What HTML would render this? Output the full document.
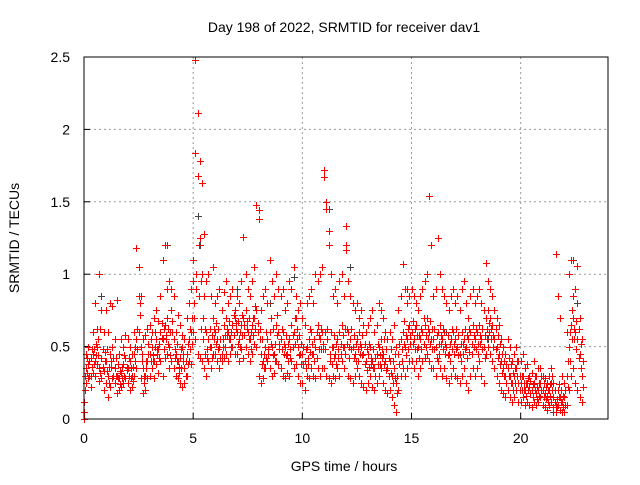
<!DOCTYPE html>
<html><head><meta charset="utf-8"><style>
body{margin:0;background:#fff}
svg text{font-family:"Liberation Sans",sans-serif;font-size:14px;fill:#000}
</style></head><body>
<svg id="chart" width="640" height="480" xmlns="http://www.w3.org/2000/svg">
<rect width="640" height="480" fill="#fff"/>
<text x="344" y="32" text-anchor="middle">Day 198 of 2022, SRMTID for receiver dav1</text>
<text transform="translate(19,238) rotate(-90)" text-anchor="middle">SRMTID / TECUs</text>
<text x="344" y="471" text-anchor="middle">GPS time / hours</text>
<g id="grid"></g>
<g id="ticks"></g>
<g id="marks"></g>
<rect x="84" y="57" width="524" height="362" fill="none" stroke="#000" stroke-width="1"/>
</svg>
<script>
const xTicks=[0,5,10,15,20];
const yTicks=[0,0.5,1,1.5,2,2.5];
const yTickLabels=["0","0.5","1","1.5","2","2.5"];
const hours=[0.0,0.1,0.2,0.3,0.4,0.5,0.6,0.7,0.8,0.9,
1.0,1.1,1.2,1.3,1.4,1.5,1.6,1.7,1.8,1.9,
2.0,2.1,2.2,2.3,2.4,2.5,2.6,2.7,2.8,2.9,
3.0,3.1,3.2,3.3,3.4,3.5,3.6,3.7,3.8,3.9,
4.0,4.1,4.2,4.3,4.4,4.5,4.6,4.7,4.8,4.9,
5.0,5.1,5.2,5.3,5.4,5.5,5.6,5.7,5.8,5.9,
6.0,6.1,6.2,6.3,6.4,6.5,6.6,6.7,6.8,6.9,
7.0,7.1,7.2,7.3,7.4,7.5,7.6,7.7,7.8,7.9,
8.0,8.1,8.2,8.3,8.4,8.5,8.6,8.7,8.8,8.9,
9.0,9.1,9.2,9.3,9.4,9.5,9.6,9.7,9.8,9.9,
10.0,10.1,10.2,10.3,10.4,10.5,10.6,10.7,10.8,10.9,
11.0,11.1,11.2,11.3,11.4,11.5,11.6,11.7,11.8,11.9,
12.0,12.1,12.2,12.3,12.4,12.5,12.6,12.7,12.8,12.9,
13.0,13.1,13.2,13.3,13.4,13.5,13.6,13.7,13.8,13.9,
14.0,14.1,14.2,14.3,14.4,14.5,14.6,14.7,14.8,14.9,
15.0,15.1,15.2,15.3,15.4,15.5,15.6,15.7,15.8,15.9,
16.0,16.1,16.2,16.3,16.4,16.5,16.6,16.7,16.8,16.9,
17.0,17.1,17.2,17.3,17.4,17.5,17.6,17.7,17.8,17.9,
18.0,18.1,18.2,18.3,18.4,18.5,18.6,18.7,18.8,18.9,
19.0,19.1,19.2,19.3,19.4,19.5,19.6,19.7,19.8,19.9,
20.0,20.1,20.2,20.3,20.4,20.5,20.6,20.7,20.8,20.9,
21.0,21.1,21.2,21.3,21.4,21.5,21.6,21.7,21.8,21.9,
22.0,22.1,22.2,22.3,22.4,22.5,22.6,22.7,22.8];
const hoursMid=[0.05,0.15,0.25,0.35,0.45,0.55,0.65,0.75,0.85,0.95,
1.05,1.15,1.25,1.35,1.45,1.55,1.65,1.75,1.85,1.95,
2.05,2.15,2.25,2.35,2.45,2.55,2.65,2.75,2.85,2.95,
3.05,3.15,3.25,3.35,3.45,3.55,3.65,3.75,3.85,3.95,
4.05,4.15,4.25,4.35,4.45,4.55,4.65,4.75,4.85,4.95,
5.05,5.15,5.25,5.35,5.45,5.55,5.65,5.75,5.85,5.95,
6.05,6.15,6.25,6.35,6.45,6.55,6.65,6.75,6.85,6.95,
7.05,7.15,7.25,7.35,7.45,7.55,7.65,7.75,7.85,7.95,
8.05,8.15,8.25,8.35,8.45,8.55,8.65,8.75,8.85,8.95,
9.05,9.15,9.25,9.35,9.45,9.55,9.65,9.75,9.85,9.95,
10.05,10.15,10.25,10.35,10.45,10.55,10.65,10.75,10.85,10.95,
11.05,11.15,11.25,11.35,11.45,11.55,11.65,11.75,11.85,11.95,
12.05,12.15,12.25,12.35,12.45,12.55,12.65,12.75,12.85,12.95,
13.05,13.15,13.25,13.35,13.45,13.55,13.65,13.75,13.85,13.95,
14.05,14.15,14.25,14.35,14.45,14.55,14.65,14.75,14.85,14.95,
15.05,15.15,15.25,15.35,15.45,15.55,15.65,15.75,15.85,15.95,
16.05,16.15,16.25,16.35,16.45,16.55,16.65,16.75,16.85,16.95,
17.05,17.15,17.25,17.35,17.45,17.55,17.65,17.75,17.85,17.95,
18.05,18.15,18.25,18.35,18.45,18.55,18.65,18.75,18.85,18.95,
19.05,19.15,19.25,19.35,19.45,19.55,19.65,19.75,19.85,19.95,
20.05,20.15,20.25,20.35,20.45,20.55,20.65,20.75,20.85,20.95,
21.05,21.15,21.25,21.35,21.45,21.55,21.65,21.75,21.85,21.95,
22.05,22.15,22.25,22.35,22.45,22.55,22.65,22.75,22.85];
const tecA=[0.12,0.35,0.38,0.30,0.45,0.40,0.50,0.35,0.42,0.33,
0.40,0.30,0.45,0.50,0.35,0.30,0.28,0.32,0.38,0.42,
0.35,0.40,0.30,0.45,0.55,0.85,0.50,0.35,0.30,0.40,
0.45,0.50,0.40,0.55,0.48,0.60,0.55,0.65,0.70,0.50,
0.75,0.55,0.45,0.40,0.42,0.50,0.35,0.45,0.55,0.60,
0.95,1.84,1.68,1.25,1.00,0.85,0.60,0.55,0.50,0.70,
0.60,0.55,0.50,0.45,0.65,0.70,0.60,0.55,0.65,0.70,
0.60,0.55,0.65,0.70,0.75,0.60,0.55,0.65,0.70,0.75,
1.38,0.45,0.40,0.50,0.55,0.60,0.50,0.45,0.65,0.60,
0.55,0.60,0.50,0.45,0.55,0.65,0.60,0.70,0.50,0.45,
0.45,0.40,0.50,0.55,0.60,0.45,0.50,0.65,0.55,0.60,
1.72,1.50,1.20,0.60,0.50,0.45,0.55,0.60,0.65,0.50,
1.33,0.60,0.55,0.50,0.45,0.55,0.60,0.50,0.45,0.40,
0.45,0.50,0.40,0.35,0.45,0.50,0.55,0.45,0.40,0.35,
0.40,0.30,0.35,0.25,0.45,0.55,0.60,0.50,0.55,0.65,
0.60,0.55,0.65,0.50,0.55,0.60,0.65,0.70,0.60,0.55,
0.55,0.50,0.60,0.65,0.55,0.60,0.50,0.45,0.55,0.60,
0.55,0.50,0.45,0.60,0.55,0.50,0.55,0.60,0.65,0.55,
0.60,0.65,0.55,0.50,0.70,0.75,0.70,0.65,0.55,0.50,
0.45,0.40,0.35,0.30,0.35,0.30,0.25,0.30,0.35,0.25,
0.25,0.30,0.20,0.25,0.22,0.20,0.25,0.18,0.20,0.25,
0.20,0.18,0.15,0.20,0.25,0.15,0.10,0.20,0.15,0.12,
0.15,0.30,0.50,0.65,0.70,0.60,0.55,0.45,0.30];
const tecB=[0.00,0.25,0.28,0.22,0.32,0.30,0.38,0.26,0.28,0.20,
0.25,0.15,0.22,0.28,0.25,0.18,0.20,0.22,0.25,0.28,
0.25,0.20,0.22,0.30,0.35,0.60,0.28,0.18,0.20,0.28,
0.30,0.35,0.28,0.38,0.32,0.40,0.30,0.42,0.45,0.35,
0.40,0.35,0.30,0.28,0.25,0.22,0.25,0.30,0.40,0.38,
0.60,0.55,0.45,0.42,0.40,0.35,0.30,0.40,0.35,0.45,
0.45,0.40,0.35,0.40,0.42,0.45,0.40,0.45,0.50,0.45,
0.45,0.40,0.48,0.42,0.50,0.45,0.40,0.45,0.52,0.50,
0.30,0.25,0.28,0.35,0.40,0.35,0.30,0.32,0.40,0.38,
0.35,0.30,0.28,0.32,0.30,0.40,0.35,0.38,0.30,0.25,
0.25,0.20,0.30,0.28,0.35,0.30,0.28,0.35,0.30,0.35,
0.35,0.30,0.28,0.25,0.30,0.28,0.35,0.30,0.40,0.35,
1.17,0.30,0.28,0.25,0.30,0.35,0.30,0.25,0.22,0.20,
0.25,0.30,0.22,0.20,0.25,0.30,0.35,0.25,0.20,0.18,
0.20,0.15,0.10,0.05,0.20,0.30,0.35,0.30,0.35,0.40,
0.40,0.35,0.40,0.30,0.35,0.40,0.42,0.45,0.40,0.35,
0.35,0.30,0.40,0.35,0.30,0.35,0.28,0.25,0.30,0.35,
0.30,0.28,0.25,0.30,0.35,0.25,0.20,0.30,0.35,0.30,
0.35,0.40,0.30,0.25,0.45,0.50,0.45,0.40,0.35,0.30,
0.25,0.20,0.18,0.15,0.20,0.15,0.12,0.15,0.20,0.12,
0.12,0.15,0.10,0.12,0.10,0.08,0.12,0.10,0.12,0.15,
0.10,0.08,0.06,0.10,0.12,0.08,0.05,0.10,0.06,0.05,
0.05,0.10,0.20,0.30,0.35,0.25,0.20,0.15,0.12];
const tecC=[0.05,0.45,0.50,0.42,0.60,0.80,0.62,1.00,0.75,0.60,
0.75,0.60,0.80,0.78,0.55,0.82,0.45,0.55,0.50,0.58,
0.55,0.50,0.45,0.60,1.18,1.05,0.85,0.55,0.58,0.62,
0.65,0.60,0.70,0.75,0.68,0.85,1.10,1.20,0.90,0.95,
0.90,0.85,0.60,0.72,0.65,0.58,0.55,0.70,0.80,0.90,
1.10,2.48,2.11,1.78,1.63,1.28,0.95,1.00,0.85,1.05,
0.80,0.85,0.90,0.75,0.88,0.95,0.80,0.85,0.90,0.75,
0.85,0.80,0.95,1.26,1.00,0.90,0.85,0.95,1.05,1.48,
1.44,0.75,0.85,0.90,0.80,1.10,0.95,0.85,1.00,0.90,
0.85,0.90,0.75,0.80,0.95,0.90,1.05,0.85,0.75,0.80,
0.70,0.65,0.80,0.85,0.90,0.80,1.00,0.95,1.00,1.05,
1.67,1.45,1.30,1.00,0.85,0.90,0.80,0.95,1.00,0.85,
1.20,0.95,0.85,0.80,0.75,0.80,0.70,0.75,0.65,0.60,
0.65,0.70,0.75,0.60,0.65,0.80,0.75,0.70,0.60,0.55,
0.60,0.55,0.65,0.50,0.75,0.85,1.07,0.90,0.80,0.85,
0.90,0.85,0.80,0.75,0.85,0.90,0.95,1.00,1.54,1.20,
0.85,0.90,1.25,1.00,0.90,0.85,0.80,0.75,0.85,0.90,
0.80,0.85,0.75,0.90,0.95,0.80,0.70,0.85,0.90,0.80,
0.85,0.90,0.80,0.75,1.08,0.95,0.90,0.85,0.75,0.70,
0.65,0.55,0.50,0.45,0.55,0.50,0.40,0.45,0.50,0.40,
0.40,0.45,0.35,0.38,0.30,0.32,0.40,0.30,0.35,0.35,
0.30,0.28,0.25,0.30,0.35,0.25,1.14,0.85,0.70,0.30,
0.25,0.60,1.00,1.10,0.85,0.90,1.06,0.70,0.55];
const tecD=[0.30,0.32,0.40,0.36,0.48,0.44,0.55,0.62,0.48,0.40,
0.33,0.36,0.40,0.30,0.42,0.28,0.33,0.36,0.30,0.34,
0.30,0.28,0.36,0.40,0.48,0.72,0.45,0.30,0.35,0.45,
0.40,0.44,0.50,0.45,0.52,0.56,0.48,0.58,0.62,0.44,
0.60,0.48,0.40,0.36,0.35,0.40,0.30,0.38,0.48,0.52,
0.80,1.00,1.20,0.95,0.70,0.62,0.48,0.50,0.42,0.55,
0.52,0.48,0.55,0.50,0.58,0.62,0.55,0.60,0.72,0.62,
0.52,0.60,0.58,0.65,0.62,0.55,0.60,0.70,0.62,0.66,
0.55,0.38,0.45,0.42,0.48,0.52,0.44,0.52,0.58,0.52,
0.48,0.52,0.44,0.40,0.48,0.58,0.52,0.62,0.44,0.38,
0.38,0.35,0.42,0.46,0.52,0.40,0.42,0.58,0.48,0.52,
0.60,0.55,0.45,0.50,0.42,0.38,0.48,0.52,0.58,0.45,
0.62,0.50,0.48,0.42,0.40,0.48,0.52,0.44,0.38,0.34,
0.36,0.42,0.35,0.30,0.38,0.44,0.48,0.38,0.34,0.30,
0.32,0.25,0.28,0.18,0.38,0.48,0.52,0.44,0.48,0.58,
0.52,0.48,0.58,0.42,0.48,0.52,0.58,0.62,0.52,0.48,
0.48,0.42,0.52,0.58,0.48,0.52,0.44,0.40,0.48,0.52,
0.48,0.44,0.40,0.52,0.48,0.42,0.46,0.52,0.58,0.48,
0.52,0.58,0.48,0.42,0.62,0.66,0.62,0.58,0.48,0.42,
0.38,0.32,0.30,0.25,0.30,0.25,0.20,0.25,0.30,0.20,
0.20,0.25,0.16,0.20,0.18,0.15,0.20,0.14,0.16,0.20,
0.15,0.14,0.12,0.16,0.20,0.12,0.08,0.15,0.12,0.08,
0.10,0.22,0.40,0.55,0.62,0.48,0.42,0.35,0.22];
const tecE=[0.20,0.42,0.30,0.48,0.38,0.52,0.44,0.32,0.36,0.46,
0.48,0.25,0.36,0.42,0.30,0.38,0.24,0.28,0.44,0.36,
0.42,0.35,0.26,0.50,0.62,0.80,0.40,0.25,0.40,0.52,
0.55,0.40,0.60,0.48,0.42,0.66,0.62,0.55,0.52,0.60,
0.68,0.42,0.52,0.32,0.48,0.45,0.40,0.52,0.62,0.70,
0.70,0.90,0.85,0.62,0.55,0.45,0.42,0.62,0.58,0.62,
0.66,0.62,0.42,0.55,0.50,0.58,0.68,0.50,0.58,0.66,
0.68,0.50,0.72,0.58,0.68,0.70,0.48,0.58,0.78,0.60,
0.62,0.55,0.35,0.60,0.45,0.70,0.62,0.40,0.72,0.48,
0.62,0.45,0.58,0.52,0.42,0.50,0.70,0.55,0.58,0.52,
0.50,0.48,0.38,0.62,0.45,0.55,0.60,0.48,0.62,0.48,
0.48,0.62,0.40,0.38,0.58,0.52,0.42,0.45,0.50,0.62,
0.52,0.42,0.62,0.58,0.52,0.40,0.45,0.58,0.52,0.48,
0.52,0.38,0.48,0.42,0.52,0.38,0.42,0.55,0.48,0.42,
0.48,0.40,0.45,0.30,0.52,0.40,0.68,0.58,0.62,0.52,
0.68,0.62,0.48,0.58,0.62,0.70,0.50,0.55,0.68,0.62,
0.62,0.58,0.45,0.52,0.62,0.45,0.58,0.52,0.62,0.45,
0.62,0.58,0.52,0.45,0.62,0.58,0.62,0.45,0.50,0.62,
0.45,0.52,0.62,0.58,0.55,0.60,0.55,0.50,0.62,0.58,
0.52,0.45,0.40,0.38,0.42,0.38,0.32,0.35,0.40,0.30,
0.30,0.20,0.25,0.28,0.26,0.24,0.30,0.22,0.25,0.30,
0.25,0.22,0.20,0.24,0.30,0.20,0.14,0.24,0.20,0.16,
0.20,0.40,0.60,0.75,0.55,0.68,0.62,0.52,0.40];
const grayHours=[0.7,0.8,3.8,5.2,5.3,7.0,8.5,9.6,10.6,11.0,11.2,12.2,14.8,16.6,18.5,19.3,20.2,21.5,22.4,22.6];
const grayTec=[1.0,0.85,1.2,1.4,1.2,0.9,0.8,0.98,1.0,1.67,1.45,1.05,0.9,0.6,0.55,0.45,0.2,0.05,1.1,0.8];

const NS="http://www.w3.org/2000/svg";
const X0=84,X1=608,Y0=419,Y1=57;
function xs(h){return X0+(X1-X0)*h/24;}
function ys(v){return Y0-(Y0-Y1)*v/2.5;}
const grid=document.getElementById('grid'),ticks=document.getElementById('ticks'),marks=document.getElementById('marks');
function mk(tag,attrs,parent){const e=document.createElementNS(NS,tag);for(const k in attrs)e.setAttribute(k,attrs[k]);parent.appendChild(e);return e;}
xTicks.forEach(t=>{
  const x=xs(t);
  if(t>0){const g=mk('line',{x1:x,x2:x,y1:Y0,y2:Y1,stroke:'#999','stroke-dasharray':'2,3'},grid);
  
  }
  const l=mk('line',{x1:x,x2:x,y1:Y0,y2:Y0-6,stroke:'#000'},ticks);
  
  
  const tx=mk('text',{x:x,y:443,'text-anchor':'middle'},ticks);tx.textContent=String(t);
  
  
});
yTicks.forEach((t,i)=>{
  const y=ys(t);
  if(t>0&&t<2.5){const g=mk('line',{x1:X0,x2:X1,y1:y,y2:y,stroke:'#999','stroke-dasharray':'2,3'},grid);
  
  }
  const l=mk('line',{x1:X0,x2:X0+6,y1:y,y2:y,stroke:'#000'},ticks);
  
  
  const tx=mk('text',{x:70,y:y+5,'text-anchor':'end'},ticks);tx.textContent=yTickLabels[i];
  
  
});
function cross(h,v,color){
  const x=Math.round(xs(h))+0.5,y=Math.round(ys(v))+0.5;
  const p=mk('path',{d:`M${x-3.5} ${y}H${x+3.5}M${x} ${y-3.5}V${y+3.5}`,stroke:color,'stroke-width':1,fill:'none'},marks);
  
  
}
grayHours.forEach((h,i)=>cross(h,grayTec[i],'#444'));
[tecA,tecB,tecC].forEach(arr=>hours.forEach((h,i)=>cross(h,arr[i],'#f00')));
[tecD,tecE].forEach(arr=>hoursMid.forEach((h,i)=>cross(h,arr[i],'#f00')));
</script>
</body></html>
